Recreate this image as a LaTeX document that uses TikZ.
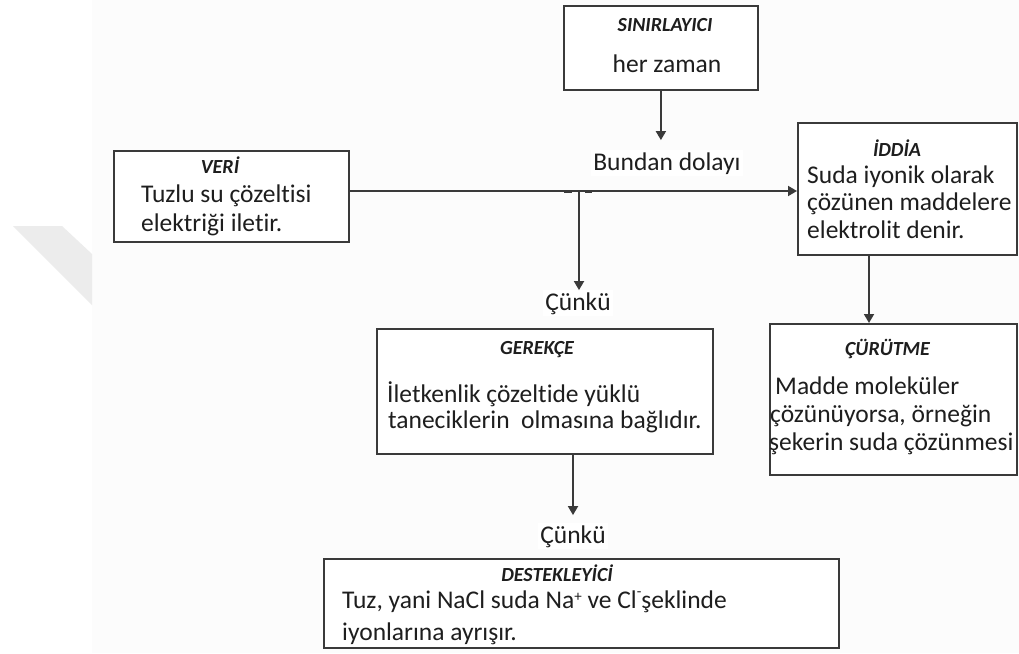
\documentclass[tikz,border=0pt]{standalone}
\usepackage{fontspec}
\setmainfont{Carlito}[Ligatures=NoCommon]
\usetikzlibrary{arrows.meta,calc}
\definecolor{ink}{HTML}{1E1E1E}
\definecolor{rule}{HTML}{3A3A3A}
\definecolor{paper}{HTML}{FCFCFC}
\definecolor{markgray}{HTML}{ECECEC}
\newcommand{\ionsign}[2]{\raisebox{#1}{\fontsize{15}{15}\selectfont #2}}
\tikzset{
  box/.style={draw=rule, line width=1.8pt, fill=white, inner sep=0pt, anchor=north west},
  body/.style={font=\fontsize{25.5}{30}\selectfont, text=ink, inner sep=0pt, anchor=base west},
  head/.style={font=\fontsize{20}{24}\selectfont\bfseries\itshape, text=ink, inner sep=0pt, anchor=base},
  cue/.style={font=\fontsize{25.5}{30}\selectfont, text=ink, fill=white, inner sep=2pt, anchor=base},
  link/.style={draw=rule, line width=1.8pt},
  arrow/.style={link, -{Triangle[width=10pt,length=9pt]}}
}
\begin{document}
\begin{tikzpicture}[x=1pt,y=-1pt]
  \useasboundingbox (0,0) rectangle (1019,653);
  % page tone and the faint mark at the left margin
  \fill[white] (0,0) rectangle (92,653);
  \fill[paper] (92,0) rectangle (1019,653);
  \fill[markgray] (13,226) -- (62,226) -- (92,254) -- (92,305) -- cycle;

  % frames
  \node[box, minimum width=194pt, minimum height=84pt]  (sin)     at (563,5)   {};
  \node[box, minimum width=235pt, minimum height=91pt]  (veri)    at (113,150) {};
  \node[box, minimum width=219pt, minimum height=132pt] (iddia)   at (797,122) {};
  \node[box, minimum width=336pt, minimum height=125pt] (gerekce) at (376,328) {};
  \node[box, minimum width=247pt, minimum height=151pt] (curutme) at (769,323) {};
  \node[box, minimum width=515pt, minimum height=89pt]  (destek)  at (323,558) {};

  % SINIRLAYICI
  \node[head] (sinT) at (665,31) {SINIRLAYICI};
  \node[body, anchor=base] (sinA) at (667,72) {her zaman};

  % VERİ
  \node[head] (veriT) at (220,173) {VERİ};
  \node[body] (veriA) at (141,202) {Tuzlu su çözeltisi};
  \node[body] (veriB) at (141,231) {elektriği iletir.};

  % İDDİA
  \node[head] (iddiaT) at (897,156) {İDDİA};
  \node[body] (iddiaA) at (807,183) {Suda iyonik olarak};
  \node[body] (iddiaB) at (807,210.5) {çözünen maddelere};
  \node[body] (iddiaC) at (807,238) {elektrolit denir.};

  % GEREKÇE
  \node[head] (gerT) at (537,354) {GEREKÇE};
  \node[body] (gerA) at (387,402) {İletkenlik çözeltide yüklü};
  \node[body] (gerB) at (388,428) {taneciklerin\ \ olmasına bağlıdır.};

  % ÇÜRÜTME
  \node[head] (curT) at (887.5,355) {ÇÜRÜTME};
  \node[body] (curA) at (775,394) {Madde moleküler};
  \node[body] (curB) at (770,422) {çözünüyorsa, örneğin};
  \node[body] (curC) at (769,450) {şekerin suda çözünmesi};

  % DESTEKLEYİCİ
  \node[head] (desT) at (557,581) {DESTEKLEYİCİ};
  \node[body] (desA) at (342,608) {Tuz, yani NaCl suda Na\ionsign{0.55ex}{+} ve Cl\ionsign{0.95ex}{-}şeklinde};
  \node[body] (desB) at (342,640) {iyonlarına ayrışır.};

  % connective words
  \node[cue] (bundan) at (667,170) {Bundan dolayı};
  \node[cue] (cunkuA) at (578,310) {Çünkü};
  \node[cue] (cunkuB) at (573,543) {Çünkü};

  % connectors
  \coordinate (j) at (579,191);
  \coordinate (drop) at (869,0);
  \draw[arrow] (veri.east |- j) -- (iddia.west |- j);
  \draw[rule, line width=2.3pt] ($(j)+(-15,0.8)$) -- ($(j)+(-7,0.8)$)
                                ($(j)+(6,0.8)$) -- ($(j)+(13,0.8)$);
  \draw[arrow] (j) -- (j |- cunkuA.north);
  \draw[arrow, shorten >=10pt] (sin.south) -- (sin.south |- bundan.north);
  \draw[arrow, shorten >=8pt] (gerekce.south -| cunkuB) -- (cunkuB.north);
  \draw[arrow] (iddia.south -| drop) -- (curutme.north -| drop);
\end{tikzpicture}
\end{document}
